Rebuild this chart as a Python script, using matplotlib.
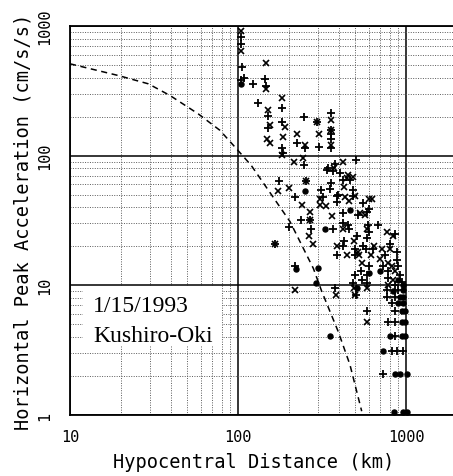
import matplotlib
matplotlib.use("Agg")
import matplotlib.pyplot as plt
from matplotlib import font_manager
from matplotlib.patches import Rectangle

# ---------------- data ----------------
plus_x = [104, 104, 106, 104, 108, 123, 131, 145, 147, 183, 151, 151, 184, 184, 185, 223, 247, 250, 297, 305,
          358, 358, 358, 360, 360,
          246, 254, 176, 218, 237, 270, 273, 202, 166, 369, 310, 322, 353, 360, 340, 344, 369, 377, 405, 465,
          504, 424, 486, 481, 386, 394, 390, 424, 424, 453, 460, 386, 520, 584, 600, 552, 508, 429, 424, 497,
          497, 592, 584, 605, 684, 557, 578, 540, 584, 545, 640, 600, 497, 486, 506, 584, 584, 378, 218,
          803, 860, 750, 879, 879, 733, 785, 900, 920, 785, 942, 860, 767, 900, 767, 860, 822, 860, 785, 860,
          860, 822, 879, 964, 733]
plus_y = [818, 728, 480, 380, 398, 358, 256, 391, 343, 235, 204, 163, 181, 115, 105, 126, 198, 115, 181, 117,
          214, 158, 148, 135, 115,
          84, 64, 64, 48, 32, 32, 27, 28, 21, 27, 54, 48, 55, 62, 77, 80, 76, 87, 74, 65,
          92, 65, 54, 49, 49, 50, 44, 36, 30, 29, 27, 17, 35, 37, 39, 43, 24, 22, 20, 19,
          17, 29, 23, 26, 29, 20, 19, 13, 12, 11, 19, 14, 12, 10.4, 8.4, 10.4, 6.3, 9.5, 14,
          21, 25, 17, 18, 15.7, 14, 13, 14, 12, 11.3, 10.6, 10.1, 9.2, 9.2, 8.2, 8.2, 7.3, 6.3, 5.2, 5.2,
          4.1, 3.1, 3.1, 3.1, 2.07]

cross_x = [104, 104, 147, 147, 182, 151, 155, 149, 156, 190, 185, 182, 223, 250, 297, 305, 358, 358, 360,
           215, 245, 254, 200, 174, 239, 268, 270, 263, 281, 166, 309, 306, 334, 374, 424, 453, 444, 486, 430,
           497, 434, 460, 424, 365, 386, 444, 530, 605, 625, 570, 489, 515, 525, 584, 545, 617, 648, 489, 497,
           584, 584, 382, 218,
           767, 841, 803, 716, 700, 785, 822, 860, 841, 785]
cross_y = [920, 646, 518, 327, 278, 227, 173, 135, 126, 166, 139, 101, 148, 120, 181, 148, 190, 158, 120,
           89, 96, 64, 56, 53, 42, 37, 32, 24, 21, 21, 46, 42, 41, 81, 89, 71, 67, 69, 57,
           49, 48, 45, 27, 34, 20, 17, 36, 46, 46, 35, 22, 18, 17, 27, 15, 17, 20, 9.5, 8.4,
           9.5, 5.2, 8.4, 9.2,
           26, 24, 19, 19, 16, 15, 14, 13, 11, 10.1]

dot_x = [104, 251, 330, 222, 300, 291, 353, 600, 510, 465,
         700, 900, 964, 841, 964, 920, 964, 900, 964, 942, 985, 942, 985, 803, 942, 985, 726, 860, 920, 1010,
         850, 964, 1010]
dot_y = [358, 53, 27, 13.4, 13.5, 10.4, 4.1, 12.5, 9.5, 38,
         13, 11, 10.1, 9.0, 9.2, 8.2, 8.2, 7.3, 7.3, 6.3, 6.3, 5.2, 5.2, 4.1, 4.1, 4.1, 3.1, 2.07, 2.07, 2.07,
         1.05, 1.05, 1.05]

curve_x = [10, 19.4, 29.3, 39.4, 58, 78, 98, 120, 204, 281, 315, 395, 464, 545]
curve_y = [511, 415, 358, 291, 210, 157, 113, 84, 31, 13.5, 9, 4.4, 2.44, 1.07]

x_ticks = [10, 100, 1000]
x_tick_labels = ["10", "100", "1000"]
y_ticks = [1, 10, 100, 1000]
y_tick_labels = ["1", "10", "100", "1000"]

# ---------------- fonts ----------------
avail = {f.name for f in font_manager.fontManager.ttflist}
tick_font = "Liberation Sans Narrow" if "Liberation Sans Narrow" in avail else "DejaVu Sans Mono"

# ---------------- figure ----------------
fig = plt.figure(figsize=(4.53, 4.77), dpi=100)
ax = fig.add_axes([70 / 453, 61 / 477, 383 / 453, 389 / 477])
ax.set_xscale("log")
ax.set_yscale("log")
ax.set_xlim(10, 1905)
ax.set_ylim(1, 1000)

# grids
ax.grid(True, which="minor", linestyle=(0, (1, 1.5)), color="#5a5a5a", linewidth=0.7)
ax.grid(True, which="major", linestyle="-", color="black", linewidth=1.1)
ax.set_axisbelow(True)

for s in ["left", "bottom", "top"]:
    ax.spines[s].set_linewidth(1.3)
ax.spines["right"].set_visible(False)

ax.set_xticks(x_ticks)
ax.set_xticklabels(x_tick_labels)
ax.set_yticks(y_ticks)
ax.set_yticklabels(y_tick_labels, rotation=90, va="center")
ax.tick_params(which="both", length=0)
ax.tick_params(axis="x", pad=10, labelsize=11)
ax.tick_params(axis="y", pad=13, labelsize=11)
for lab in ax.get_xticklabels() + ax.get_yticklabels():
    lab.set_fontfamily(tick_font)

# white box behind annotation
ax.add_patch(Rectangle((13 / 383, 69 / 389), 139 / 383, 60 / 389, transform=ax.transAxes,
                       facecolor="white", edgecolor="none", zorder=1))

# curve
ax.plot(curve_x, curve_y, color="black", linestyle=(0, (4, 3)), linewidth=1.1, zorder=3)

# data
ax.plot(plus_x, plus_y, linestyle="none", marker="+", markersize=6.3, markeredgewidth=1.3,
        color="black", zorder=4, clip_on=False)
ax.plot(cross_x, cross_y, linestyle="none", marker="x", markersize=4.8, markeredgewidth=1.2,
        color="black", zorder=4, clip_on=False)
ax.plot(dot_x, dot_y, linestyle="none", marker="o", markersize=3.6, color="black", zorder=4,
        clip_on=False)

ax.text(23 / 383, 109 / 389, "1/15/1993", transform=ax.transAxes, fontsize=17,
        family="Liberation Serif", va="center", ha="left", zorder=5)
ax.text(23 / 383, 79 / 389, "Kushiro-Oki", transform=ax.transAxes, fontsize=17,
        family="Liberation Serif", va="center", ha="left", zorder=5)

ax.set_xlabel("Hypocentral Distance (km)", family="DejaVu Sans Mono", fontsize=13.4)
ax.set_ylabel("Horizontal Peak Acceleration (cm/s/s)", family="DejaVu Sans Mono", fontsize=13.4)
ax.xaxis.set_label_coords((254 - 70) / 383, -(463 - 416) / 389)
ax.yaxis.set_label_coords(-(70 - 23) / 383, 0.5)
ax.xaxis.label.set_va("center")
ax.yaxis.label.set_va("center")

fig.savefig("out.png", dpi=100)
